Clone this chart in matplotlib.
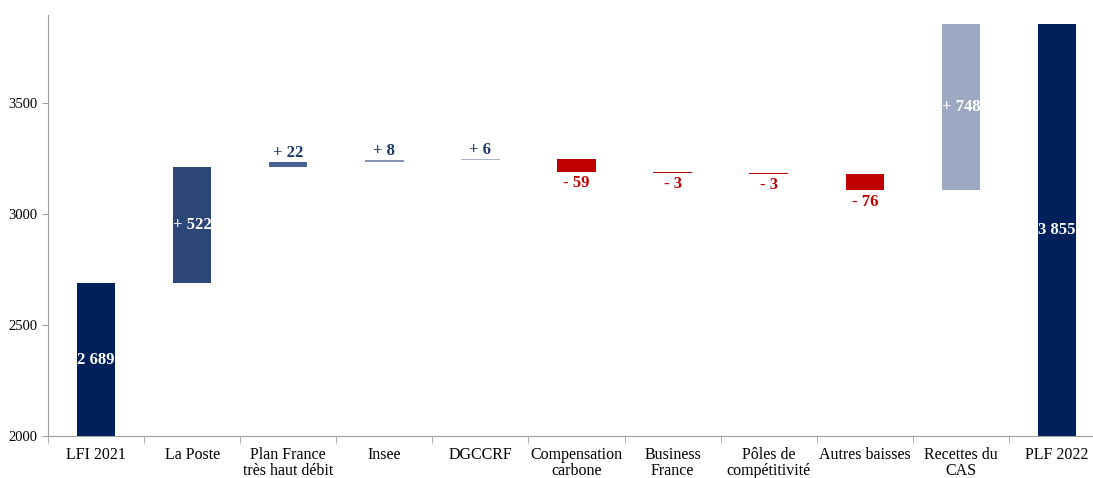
import matplotlib.pyplot as plt

# waterfall data (millions €)
categories = ['LFI 2021', 'La Poste', 'Plan France\ntrès haut débit', 'Insee', 'DGCCRF',
              'Compensation\ncarbone', 'Business\nFrance', 'Pôles de\ncompétitivité',
              'Autres baisses', 'Recettes du\nCAS', 'PLF 2022']
changes = [2689, 522, 22, 8, 6, -59, -3, -3, -76, 748, 3855]
labels = ['2 689', '+ 522', '+ 22', '+ 8', '+ 6', '- 59', '- 3', '- 3', '- 76', '+ 748', '3 855']
colors = ['#00205B', '#2C4677', '#4A6291', '#8592B4', '#A9B4CC', '#C00000',
          '#C00000', '#C00000', '#C00000', '#9DA9C3', '#00205B']

plt.rcParams['font.family'] = ['Liberation Serif', 'DejaVu Serif']

ymin, ymax = 2000, 3896
fig = plt.figure(figsize=(10.93, 4.78), dpi=100)
ax = fig.add_axes([48 / 1093, 42 / 478, 1057 / 1093, 421 / 478])

running = 0
for i, (c, lab, col) in enumerate(zip(changes, labels, colors)):
    if i == 0 or i == len(changes) - 1:
        bottom, height = 0, c
        running = c
    else:
        bottom = running if c >= 0 else running + c
        height = abs(c)
        running += c
    ax.bar(i, height, bottom=bottom, width=0.4, color=col, edgecolor='none', zorder=2)
    top = bottom + height
    if height > 300:
        mid = (max(bottom, ymin) + top) / 2
        ax.text(i, mid, lab, ha='center', va='center', color='white',
                fontsize=12, fontweight='bold', zorder=3)
    elif c >= 0:
        ax.text(i, top + 6, lab, ha='center', va='bottom', color='#1F3864',
                fontsize=12, fontweight='bold')
    else:
        ax.text(i, bottom - 14, lab, ha='center', va='top', color='#C00000',
                fontsize=12, fontweight='bold')

ax.set_xlim(-0.5, len(categories) - 0.5)
ax.set_ylim(ymin, ymax)
ax.set_yticks([2000, 2500, 3000, 3500])
ax.tick_params(axis='y', length=4, color='#A0A0A0', labelsize=10.5)
ax.set_xticks(range(len(categories)))
ax.set_xticklabels(categories, fontsize=11.5, linespacing=1.0)
ax.tick_params(axis='x', length=0, pad=8)
ax.set_xticks([i - 0.5 for i in range(len(categories) + 1)], minor=True)
ax.tick_params(axis='x', which='minor', length=5, color='#A0A0A0')

for s in ['top', 'right']:
    ax.spines[s].set_visible(False)
for s in ['left', 'bottom']:
    ax.spines[s].set_color('#A0A0A0')

fig.savefig('out.png', dpi=100)
